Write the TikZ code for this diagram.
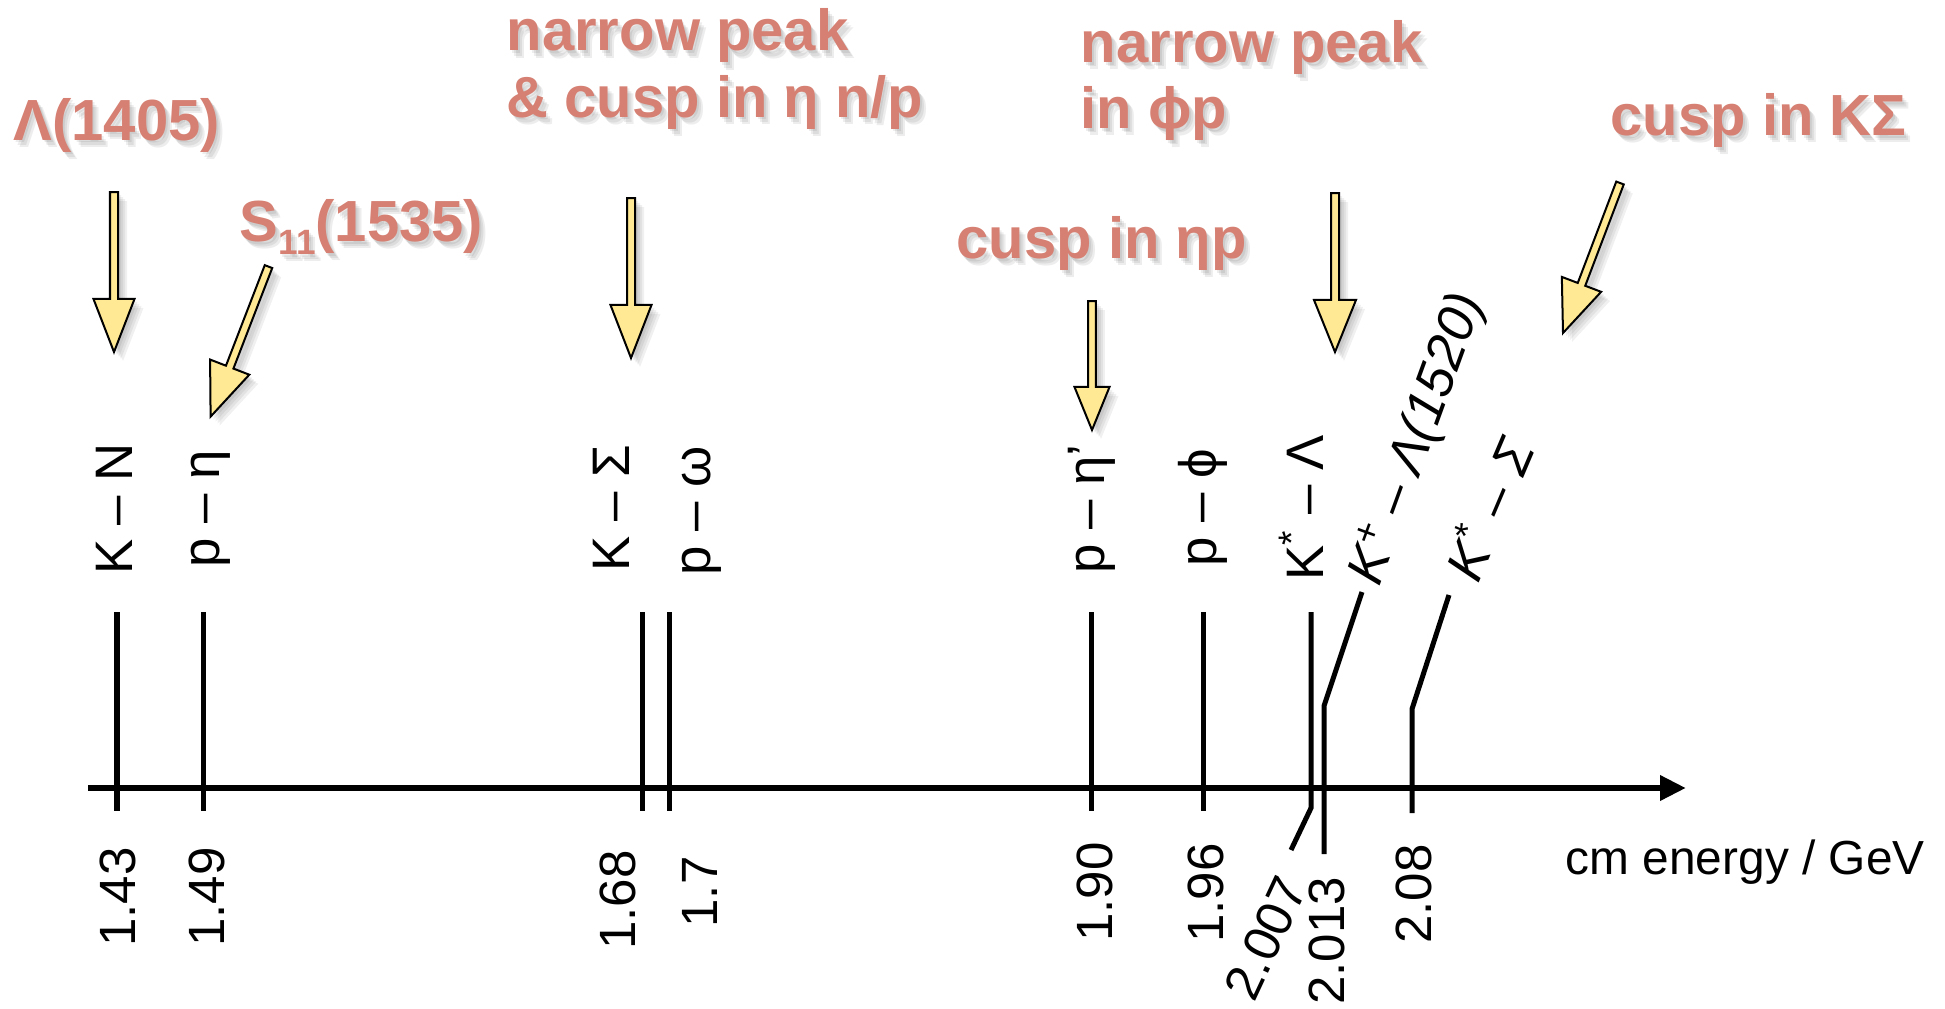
\documentclass[tikz,border=0pt]{standalone}
\usepackage{fontspec}
\setmainfont{Liberation Sans}
\usetikzlibrary{calc,arrows.meta}
\definecolor{salmon}{RGB}{213,128,114}
\definecolor{ylw}{RGB}{255,233,148}
\tikzset{
  thr/.style={line width=0.05cm, black},
  axisline/.style={line width=0.065cm, -{Triangle[length=0.26cm,width=0.24cm]}},
  plab/.style={rotate=90, anchor=base, inner sep=0pt, font=\fontsize{15}{15}\selectfont},
  slab/.style={anchor=west, inner sep=0pt, font=\fontsize{15}{15}\selectfont\itshape},
  nlab/.style={rotate=90, anchor=base, inner sep=0pt, font=\fontsize{14.5}{14.5}\selectfont},
  ttlfont/.style={anchor=base west, inner sep=0pt, font=\fontsize{16.5}{18}\selectfont\bfseries},
  ttl/.style={ttlfont, text=salmon},
  ttlsh/.style={ttlfont, text=black, text opacity=0.07},
  yarr/.style={fill=ylw, draw=black, line width=0.02cm, line join=miter},
  yarrsh/.style={fill=black, fill opacity=0.06, draw=none},
}
% title with soft shadow: #1 name, #2 position, #3 text
\newcommand\ttltext[3]{%
  \foreach \dx/\dy/\k in {2/3/a,4/5/b,6/7/c}{%
    \node[ttlsh] (#1\k) at ($#2+(\dx,\dy)$) {#3};}%
  \node[ttl] (#1) at #2 {#3};}
% polygon of a block arrow: #1 name, #2 shaft half width, #3 head half width
\newcommand\arrpoly[3]{($(#1t)!#2!90:(#1p)$) -- ($(#1b)!#2!90:(#1p)$) -- ($(#1b)!#3!90:(#1p)$) -- (#1p) -- ($(#1b)!#3!-90:(#1p)$) -- ($(#1b)!#2!-90:(#1p)$) -- ($(#1t)!#2!-90:(#1p)$) -- cycle}
% yellow block arrow: #1 name, #2 tail, #3 tip, #4 shaft half, #5 head half, #6 head length
\newcommand\yarrow[6]{%
  \coordinate (#1t) at #2;
  \coordinate (#1p) at #3;
  \coordinate (#1b) at ($(#1p)!#6!(#1t)$);
  \foreach \s in {3,5,7,9}{%
    \begin{scope}[transform canvas={shift={(\s,\s)}}]
      \path[yarrsh] \arrpoly{#1}{#4}{#5};
    \end{scope}}
  \path[yarr] \arrpoly{#1}{#4}{#5};}

\begin{document}
\begin{tikzpicture}[x=0.01cm,y=-0.01cm]
\useasboundingbox (0,0) rectangle (1945,1009);

% ---- titles ----
\ttltext{tL}{(13,140)}{Λ(1405)}
\ttltext{tS}{(239,241)}{S\raisebox{-3.8pt}{\fontsize{10}{10}\selectfont 11}(1535)}
\ttltext{tNa}{(506,51)}{narrow peak}
\ttltext{tNb}{(506,117)}{\& cusp in η n/p}
\ttltext{tPa}{(1080,62)}{narrow peak}
\ttltext{tPb}{(1080,128)}{in ϕp}
\ttltext{tE}{(956,258)}{cusp in ηp}
\ttltext{tK}{(1610,135)}{cusp in KΣ}

% ---- yellow arrows ----
\yarrow{a1}{(114,192)}{(114,352)}{0.04cm}{0.205cm}{0.53cm}
\yarrow{a2}{(268.5,266.6)}{(210.6,416.6)}{0.04cm}{0.21cm}{0.53cm}
\yarrow{a3}{(631,198)}{(631,358)}{0.04cm}{0.205cm}{0.53cm}
\yarrow{a4}{(1092,301)}{(1092,430)}{0.038cm}{0.175cm}{0.43cm}
\yarrow{a5}{(1335,193)}{(1335,352)}{0.04cm}{0.21cm}{0.52cm}
\yarrow{a6}{(1620,183)}{(1563,333)}{0.04cm}{0.21cm}{0.52cm}

% ---- axis ----
\coordinate (ax0) at (88,788);
\coordinate (ax1) at (1686,788);
\draw[axisline] (ax0) -- (ax1);
\node[anchor=base west, inner sep=0pt, font=\fontsize{13.6}{13.6}\selectfont] (axl) at (1565,874) {cm energy / GeV};

% ---- threshold lines ----
\foreach \n/\x in {kn/117, pe/203, ks/642, pw/669, pep/1091, pf/1203}{%
  \coordinate (\n t) at (\x,612);
  \coordinate (\n b) at (\x,811);
  \draw[thr] (\n t) -- (\n b);}
% K* Lambda (bends below axis)
\coordinate (klt) at (1311,612);
\coordinate (klk) at (1311,808);
\coordinate (klb) at (1291,850);
\draw[thr, line join=miter] (klt) -- (klk) -- (klb);
% K+ Lambda(1520) (bends above axis)
\coordinate (kpb) at (1324,854);
\coordinate (kpk) at (1324,706);
\coordinate (kpt) at (1362,592);
\draw[thr, line join=miter] (kpb) -- (kpk) -- (kpt);
% K* Sigma
\coordinate (ksb) at (1412,813);
\coordinate (ksk) at (1412,709);
\coordinate (kst) at (1449,595);
\draw[thr, line join=miter] (ksb) -- (ksk) -- (kst);

% ---- channel labels ----
\node[plab] (lkn) at (132,509) {K – N};
\node[plab] (lpe) at (219,509) {p – η};
\node[plab] (lks) at (629,508) {K – Σ};
\node[plab] (lpw) at (710,511) {p – ω};
\node[plab] (lpep) at (1104,509) {p – η’};
\node[plab] (lpf) at (1216,508) {p – ϕ};
\node[plab] (lkl) at (1323,508) {K\textsuperscript{*} – Λ};
\node[slab, rotate=70] (lkp) at ($(kpt)+(4,-9)$) {K\textsuperscript{+} – Λ(1520)};
\node[slab, rotate=67] (lksg) at ($(kst)+(9,-18)$) {K\textsuperscript{*}\hspace{0.33em}–\hspace{0.33em}Σ};

% ---- energy labels ----
\node[nlab] (n143) at (135,897) {1.43};
\node[nlab] (n149) at (224,897) {1.49};
\node[nlab] (n168) at (635,900) {1.68};
\node[nlab] (n17) at (717,892) {1.7};
\node[nlab] (n190) at (1112,892) {1.90};
\node[nlab] (n196) at (1223,893) {1.96};
\node[rotate=65, anchor=center, inner sep=0pt, font=\fontsize{14.5}{14.5}\selectfont] (n2007) at (1266,938) {2.007};
\node[nlab] (n2013) at (1344,941) {2.013};
\node[nlab] (n208) at (1431,894) {2.08};
\end{tikzpicture}
\end{document}
